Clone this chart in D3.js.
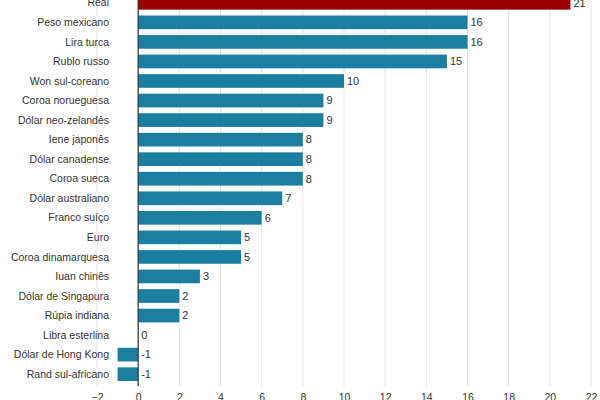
<!DOCTYPE html>
<html><head><meta charset="utf-8">
<script src="https://cdn.jsdelivr.net/npm/d3@7"></script>
<style>body{margin:0;background:#fff}svg{display:block}text{font-family:"Liberation Sans",Arial,sans-serif}</style>
</head><body><svg width="600" height="400"></svg>
<script>
const categories=["Real","Peso mexicano","Lira turca","Rublo russo","Won sul-coreano","Coroa norueguesa","Dólar neo-zelandês","Iene japonês","Dólar canadense","Coroa sueca","Dólar australiano","Franco suíço","Euro","Coroa dinamarquesa","Iuan chinês","Dólar de Singapura","Rúpia indiana","Libra esterlina","Dólar de Hong Kong","Rand sul-africano"];
const values=[21,16,16,15,10,9,9,8,8,8,7,6,5,5,3,2,2,0,-1,-1];
const xTicks=[-2,0,2,4,6,8,10,12,14,16,18,20,22];
const svg=d3.select("svg");
const x=d3.scaleLinear().domain([-2,22]).range([97,591]);
const y=d3.scaleBand().domain(categories).range([-9.9,386.9]).padding(0.3);
const g=svg.append("g");
g.selectAll("line.grid").data(xTicks).join("line").attr("class","grid")
 .attr("x1",d=>x(d)).attr("x2",d=>x(d)).attr("y1",0).attr("y2",386)
 .attr("stroke","#e3e3e3").attr("stroke-width",1);
g.selectAll("rect").data(values).join("rect")
 .attr("x",d=>x(Math.min(0,d))).attr("width",d=>Math.abs(x(d)-x(0)))
 .attr("y",(d,i)=>y(categories[i])).attr("height",y.bandwidth())
 .attr("fill",(d,i)=>i===0?"#990000":"#1a7fa0");
g.append("line").attr("x1",x(0)).attr("x2",x(0)).attr("y1",0).attr("y2",386).attr("stroke","#333").attr("stroke-width",1.2);
g.selectAll("text.val").data(values).join("text").attr("class","val")
 .attr("x",d=>x(Math.max(0,d))+3).attr("y",(d,i)=>y(categories[i])+y.bandwidth()/2)
 .attr("dy","0.35em").attr("font-size",11).attr("fill","#333").text(d=>d);
g.selectAll("text.cat").data(categories).join("text").attr("class","cat")
 .attr("x",109).attr("y",d=>y(d)+y.bandwidth()/2).attr("dy","0.35em")
 .attr("text-anchor","end").attr("font-size",10.5).attr("fill","#333").text(d=>d);
const ax=svg.append("g").attr("transform","translate(0,391)")
 .call(d3.axisBottom(x).tickValues(xTicks).tickSize(0).tickPadding(3));
ax.select(".domain").remove();
ax.selectAll("text").attr("font-size",10.5).attr("fill","#333").attr("font-family","Liberation Sans, Arial, sans-serif");
</script></body></html>
